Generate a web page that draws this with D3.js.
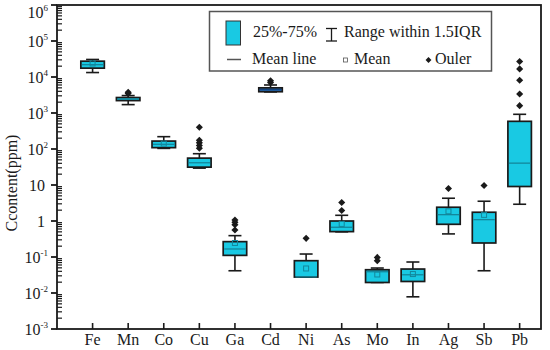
<!DOCTYPE html>
<html><head><meta charset="utf-8">
<script src="https://cdn.jsdelivr.net/npm/d3@7"></script>
<style>body{margin:0;background:#fff}svg{display:block}</style>
</head><body>
<svg id="c" width="550" height="350"></svg>
<script>
const categories = ["Fe","Mn","Co","Cu","Ga","Cd","Ni","As","Mo","In","Ag","Sb","Pb"];
const whiskerLow  = [13300, 1710, 104, 29.4, 0.0415, 3850, 0.0277, 0.5,   0.0196, 0.00783, 0.438, 0.0415, 2.92];
const q1          = [17600, 2210, 109, 31.3, 0.111,  3900, 0.0277, 0.507, 0.0196, 0.0209,  0.81,  0.245,  9.08];
const median      = [22000, 2400, 135, 41.5, 0.167,  4430, 0.028,  0.67,  0.039,  0.0321,  1.5,   1.09,   40.5];
const q3          = [27500, 2690, 166, 55.8, 0.267,  5000, 0.0789, 1.0,   0.0443, 0.0463,  2.41,  1.75,   587];
const whiskerHigh = [30700, 3050, 220, 74,   0.392,  6000, 0.121,  1.44,  0.0494, 0.0726,  4.29,  3.54,   920];
const means       = [23800, null, 141, null, 0.245,  null, 0.048,  0.83,  0.0327, 0.0336,  1.86,  1.48,   null];
const outliers    = [[], [3500, 3750], [], [105, 125, 148, 175, 400], [0.565, 0.79, 0.92, 1.07], [7000, 7900],
                     [0.33], [1.95, 3.26], [0.0788, 0.0975], [], [8.0], [9.7], [1600, 3380, 8150, 16800, 27000]];
const yTicks = [1e-3, 1e-2, 1e-1, 1, 10, 1e2, 1e3, 1e4, 1e5, 1e6];

const svg = d3.select("#c");
const font = "'Liberation Serif','Times New Roman',serif";
const L = 57, R = 541, T = 5, B = 329;
const x = d3.scaleLinear().domain([0, 13.6]).range([L, R]);
const y = d3.scaleLog().domain([1e-3, 1e6]).range([B, T]);
const dark = "#1a1a1a";
const boxW = 23.5, capW = 13;

// minor ticks (inside)
const minor = [];
for (let e = -3; e < 6; e++) for (let m = 2; m <= 9; m++) minor.push(m * Math.pow(10, e));
svg.append("g").selectAll("line").data(minor).join("line")
  .attr("x1", L).attr("x2", L + 5).attr("y1", d => y(d)).attr("y2", d => y(d))
  .attr("stroke", dark).attr("stroke-width", 1.2);
// major ticks (outside)
svg.append("g").selectAll("line").data(yTicks).join("line")
  .attr("x1", L - 6).attr("x2", L).attr("y1", d => y(d)).attr("y2", d => y(d))
  .attr("stroke", dark).attr("stroke-width", 1.8);
// y tick labels
const yl = svg.append("g").selectAll("text").data(yTicks).join("text")
  .attr("x", d => { const e = Math.round(Math.log10(d)); return (e === 0 || e === 1) ? L - 12 : L - 9; })
  .attr("y", d => y(d) + (d === 1e6 ? 13 : 6))
  .attr("text-anchor", "end").attr("font-family", font).attr("font-size", 16).attr("fill", dark);
yl.each(function(d) {
  const e = Math.round(Math.log10(d));
  const t = d3.select(this);
  if (e === 0) t.text("1");
  else if (e === 1) t.text("10");
  else {
    t.append("tspan").text("10");
    t.append("tspan").attr("font-size", 9).attr("dy", -7).text(e);
  }
});

// x ticks
svg.append("g").selectAll("line").data(categories).join("line")
  .attr("x1", (d, i) => x(i + 1)).attr("x2", (d, i) => x(i + 1))
  .attr("y1", B).attr("y2", B - 6).attr("stroke", dark).attr("stroke-width", 1.6);
svg.append("g").selectAll("text").data(categories).join("text")
  .attr("x", (d, i) => x(i + 1)).attr("y", B + 16).attr("text-anchor", "middle")
  .attr("font-family", font).attr("font-size", 16).attr("fill", dark).text(d => d);

// y title
svg.append("text").attr("transform", "translate(17,183) rotate(-90)")
  .attr("text-anchor", "middle").attr("font-family", font).attr("font-size", 16)
  .attr("fill", dark).text("Ccontent(ppm)");

// boxes
const g = svg.append("g");
categories.forEach((c, i) => {
  const cx = x(i + 1);
  const fill = c === "Cd" ? "#2a74c0" : "#19c9e3";
  const medC = c === "Cd" ? "#0f3f7a" : "#13879c";
  g.append("line").attr("x1", cx).attr("x2", cx).attr("y1", y(q3[i])).attr("y2", y(whiskerHigh[i])).attr("stroke", dark).attr("stroke-width", 1.6);
  g.append("line").attr("x1", cx).attr("x2", cx).attr("y1", y(q1[i])).attr("y2", y(whiskerLow[i])).attr("stroke", dark).attr("stroke-width", 1.6);
  g.append("line").attr("x1", cx - capW / 2).attr("x2", cx + capW / 2).attr("y1", y(whiskerHigh[i])).attr("y2", y(whiskerHigh[i])).attr("stroke", dark).attr("stroke-width", 1.6);
  g.append("line").attr("x1", cx - capW / 2).attr("x2", cx + capW / 2).attr("y1", y(whiskerLow[i])).attr("y2", y(whiskerLow[i])).attr("stroke", dark).attr("stroke-width", 1.6);
  g.append("rect").attr("x", cx - boxW / 2).attr("width", boxW)
    .attr("y", y(q3[i])).attr("height", Math.max(2, y(q1[i]) - y(q3[i])))
    .attr("fill", fill).attr("stroke", dark).attr("stroke-width", 1.7);
  g.append("line").attr("x1", cx - boxW / 2 + 1).attr("x2", cx + boxW / 2 - 1)
    .attr("y1", y(median[i])).attr("y2", y(median[i])).attr("stroke", medC).attr("stroke-width", 1.3);
  if (means[i] != null) {
    g.append("rect").attr("x", cx - 2.5).attr("y", y(means[i]) - 2.5).attr("width", 5).attr("height", 5)
      .attr("fill", "none").attr("stroke", medC).attr("stroke-width", 1);
  }
  outliers[i].forEach(v => {
    g.append("path").attr("d", d3.symbol(d3.symbolDiamond2, 32)()).attr("transform", `translate(${cx},${y(v)})`)
      .attr("fill", dark);
  });
});

// frame
svg.append("rect").attr("x", L).attr("y", T).attr("width", R - L).attr("height", B - T)
  .attr("fill", "none").attr("stroke", dark).attr("stroke-width", 1.8);

// legend
const lg = svg.append("g");
lg.append("rect").attr("x", 209.5).attr("y", 11.5).attr("width", 282).attr("height", 59.5)
  .attr("fill", "#fff").attr("stroke", "#555").attr("stroke-width", 1.5);
lg.append("rect").attr("x", 226).attr("y", 21).attr("width", 14.5).attr("height", 24)
  .attr("fill", "#19c9e3").attr("stroke", "#333").attr("stroke-width", 1);
const lt = (tx, ty, s) => lg.append("text").attr("x", tx).attr("y", ty).attr("font-family", font)
  .attr("font-size", 16).attr("fill", dark).text(s);
lt(253, 37, "25%-75%");
lg.append("line").attr("x1", 331.5).attr("x2", 331.5).attr("y1", 28.5).attr("y2", 41).attr("stroke", dark).attr("stroke-width", 1.3);
lg.append("line").attr("x1", 326).attr("x2", 337).attr("y1", 28.5).attr("y2", 28.5).attr("stroke", dark).attr("stroke-width", 1.3);
lg.append("line").attr("x1", 326).attr("x2", 337).attr("y1", 41).attr("y2", 41).attr("stroke", dark).attr("stroke-width", 1.3);
lt(344, 37, "Range within 1.5IQR");
lg.append("line").attr("x1", 227).attr("x2", 241).attr("y1", 59.5).attr("y2", 59.5).attr("stroke", "#555").attr("stroke-width", 1.5);
lt(252, 64, "Mean line");
lg.append("rect").attr("x", 343.5).attr("y", 58).attr("width", 4).attr("height", 4).attr("fill", "none").attr("stroke", "#555").attr("stroke-width", 0.8);
lt(354, 64, "Mean");
lg.append("path").attr("d", d3.symbol(d3.symbolDiamond2, 22)()).attr("transform", "translate(428.5,60)").attr("fill", dark);
lt(435, 64, "Ouler");
</script>
</body></html>
